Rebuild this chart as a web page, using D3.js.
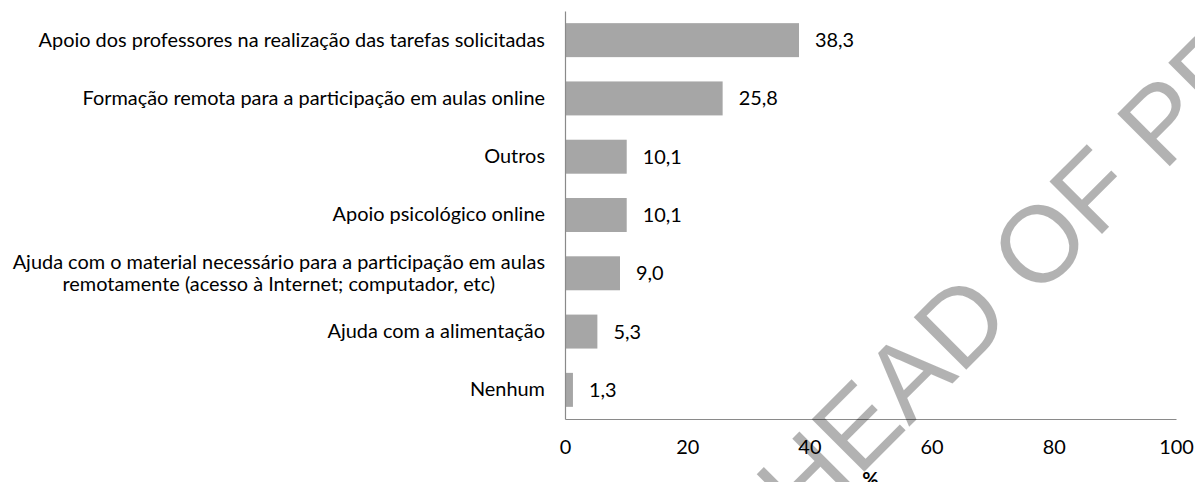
<!DOCTYPE html>
<html>
<head>
<meta charset="utf-8">
<script src="https://cdn.jsdelivr.net/npm/d3@7"></script>
<style>
  html, body { margin: 0; padding: 0; background: #fff; }
  svg { display: block; }
</style>
</head>
<body>
<svg id="chart" width="1195" height="482"></svg>
<script>
// ---- data ----
const categories = [
  "Apoio dos professores na realização das tarefas solicitadas",
  "Formação remota para a participação em aulas online",
  "Outros",
  "Apoio psicológico online",
  "Ajuda com o material necessário para a participação em aulas|remotamente (acesso à Internet; computador, etc)",
  "Ajuda com a alimentação",
  "Nenhum"
];
const values = [38.3, 25.8, 10.1, 10.1, 9.0, 5.3, 1.3];
const xTicks = [0, 20, 40, 60, 80, 100];
const xAxisTitle = "%";
const watermarkText = "AHEAD OF PRINT";

// ---- layout ----
const mLeft = 565, mRight = 1176, mTop = 11, mBottom = 419;
const FONT = "Lato, 'Open Sans', sans-serif";

const svg = d3.select("#chart");

// measure font size so the longest single-line label matches reference width
const probe = svg.append("text").attr("font-family", FONT).attr("font-size", 20).text(categories[0]);
const w20 = probe.node().getComputedTextLength();
probe.remove();
const fs = Math.min(21, 20 * 507 / w20);

const x = d3.scaleLinear().domain([0, 100]).range([mLeft, mRight]);
const y = d3.scaleBand().domain(categories).range([mTop, mBottom]).paddingInner(0.417).paddingOuter(0.2085);

const locale = d3.formatLocale({decimal: ",", thousands: ".", grouping: [3], currency: ["", ""]});
const fmt = locale.format(".1f");

// bars
svg.append("g").selectAll("rect").data(values).join("rect")
  .attr("x", x(0))
  .attr("y", (d, i) => y(categories[i]))
  .attr("width", d => x(d) - x(0))
  .attr("height", y.bandwidth())
  .attr("fill", "#a6a6a6");

// value labels
svg.append("g").selectAll("text").data(values).join("text")
  .attr("x", d => x(d) + 16)
  .attr("y", (d, i) => y(categories[i]) + y.bandwidth() / 2)
  .attr("dy", "0.35em")
  .attr("font-family", FONT)
  .attr("font-size", fs)
  .attr("fill", "#000")
  .text(d => fmt(d));

// x axis
const xAxis = svg.append("g")
  .attr("transform", `translate(0,${mBottom})`)
  .call(d3.axisBottom(x).tickValues(xTicks).tickSize(0).tickSizeOuter(0).tickPadding(21).tickFormat(d3.format("d")));
xAxis.select(".domain").attr("stroke", "#8a8a8a").attr("stroke-width", 1.2);
xAxis.selectAll("text").attr("font-family", FONT).attr("font-size", fs).attr("fill", "#000");

// y axis
const yAxis = svg.append("g")
  .attr("transform", `translate(${mLeft},0)`)
  .call(d3.axisLeft(y).tickSize(0).tickSizeOuter(0).tickPadding(20));
yAxis.select(".domain").attr("stroke", "#8a8a8a").attr("stroke-width", 1.2);
yAxis.selectAll("text")
  .attr("font-family", FONT).attr("font-size", fs).attr("fill", "#000")
  .each(function(d) {
    const parts = d.split("|");
    if (parts.length > 1) {
      const t = d3.select(this).text(null).attr("dy", null);
      const t1 = t.append("tspan").text(parts[0]);
      const w1 = t1.node().getComputedTextLength();
      const cx = -20 - w1 / 2;
      t.attr("text-anchor", "middle");
      t1.attr("x", cx).attr("dy", "-0.2em");
      t.append("tspan").attr("x", cx).attr("dy", "1.1em").text(parts[1]);
    }
  });

// x axis title
svg.append("text")
  .attr("x", (mLeft + mRight) / 2)
  .attr("y", 487)
  .attr("text-anchor", "middle")
  .attr("font-family", FONT)
  .attr("font-size", fs)
  .attr("font-weight", "bold")
  .attr("fill", "#000")
  .text(xAxisTitle);

// watermark
svg.append("text")
  .attr("transform", "translate(752,584) rotate(-45)")
  .attr("font-family", "'Liberation Sans', Arial, sans-serif")
  .attr("font-size", 108)
  .attr("fill", "#000")
  .attr("fill-opacity", 0.3)
  .text(watermarkText);
</script>
</body>
</html>
